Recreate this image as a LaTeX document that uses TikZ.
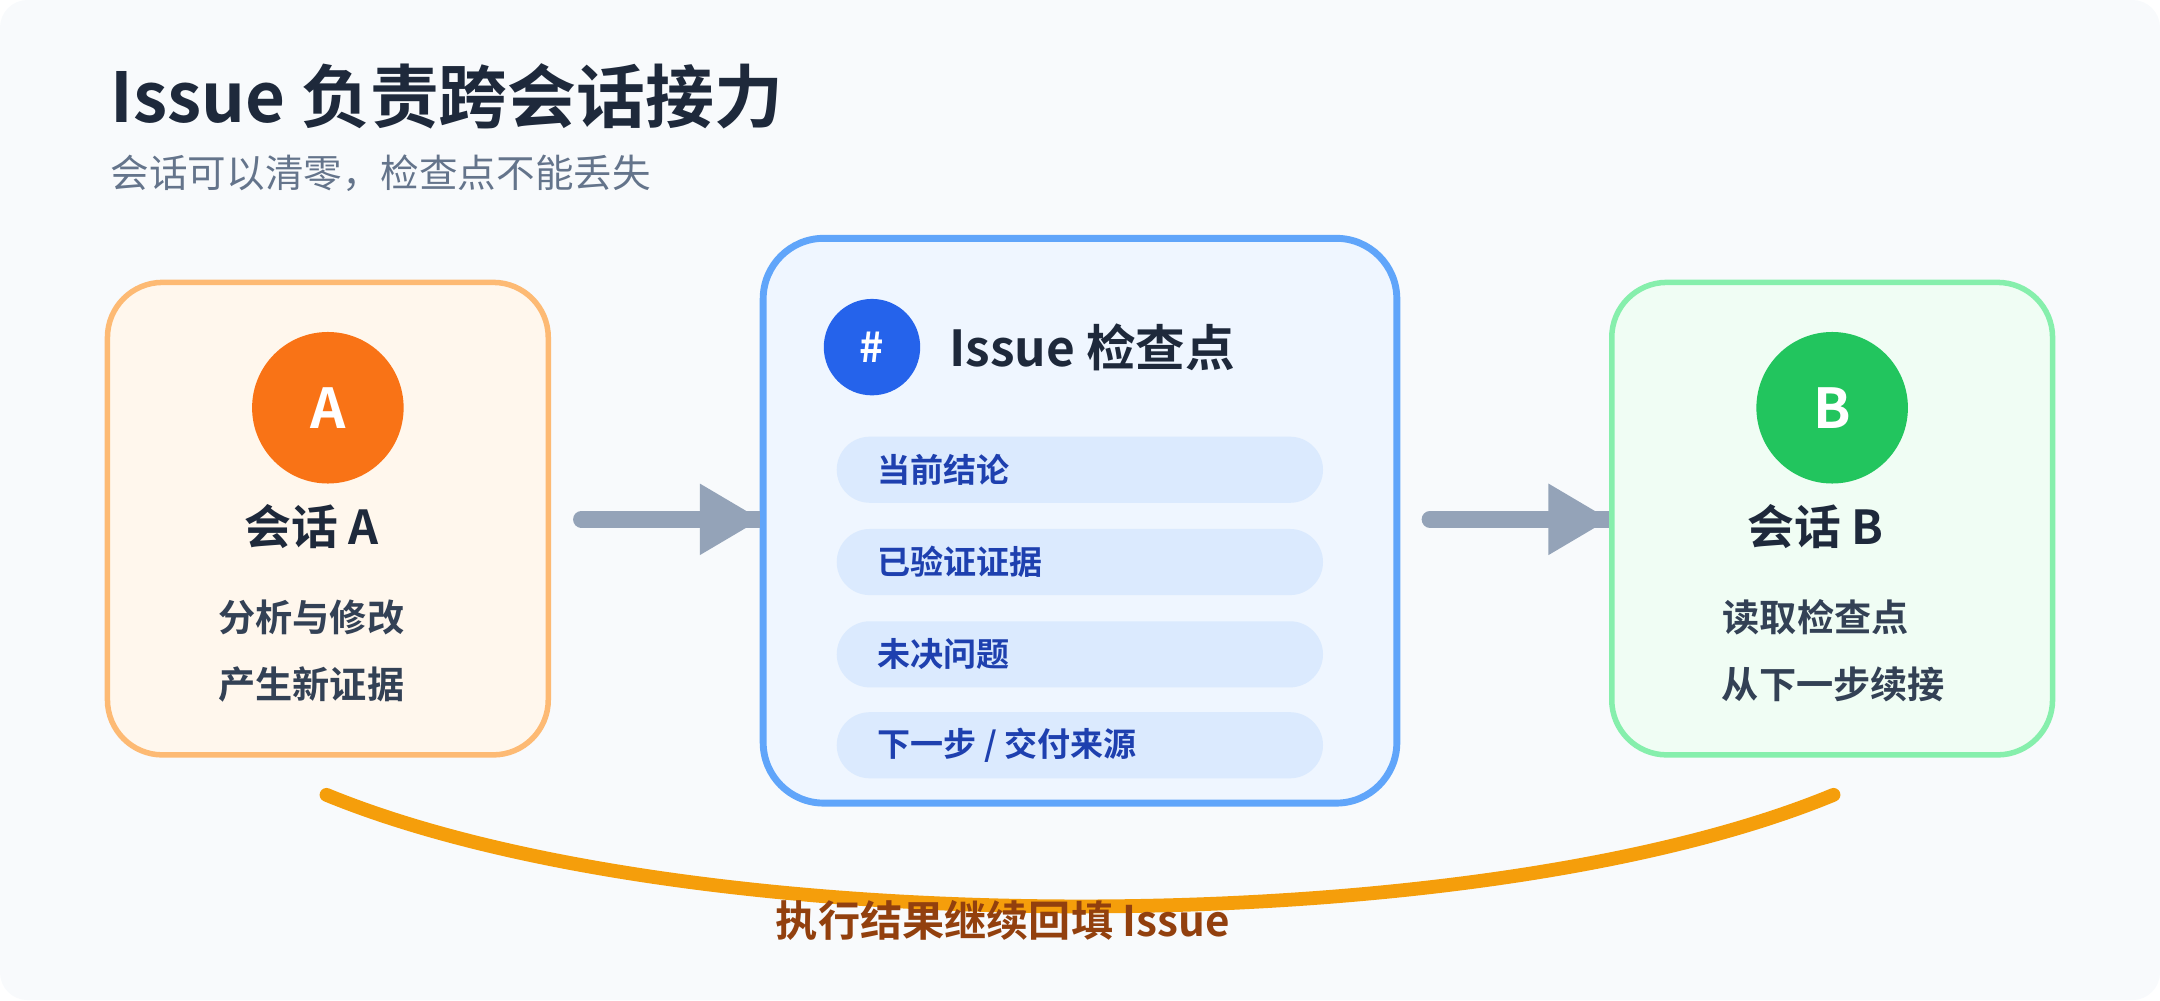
\documentclass[tikz,border=0pt]{standalone}
\usepackage{fontspec}
\setmainfont{Noto Sans CJK SC}[BoldFont={Noto Sans CJK SC Bold}]
\definecolor{bg}{HTML}{F8FAFC}
\definecolor{dark}{HTML}{1E293B}
\definecolor{mid}{HTML}{334155}
\definecolor{sub}{HTML}{64748B}
\definecolor{arr}{HTML}{94A3B8}
\begin{document}
\begin{tikzpicture}[x=0.5pt,y=-0.5pt,
  box/.style={draw,line width=2pt,rounded corners=20pt},
  circ/.style={circle,minimum size=55pt,inner sep=0pt,text=white,font=\bfseries\fontsize{20}{20}\selectfont},
  head/.style={text=dark,font=\bfseries\fontsize{17}{17}\selectfont},
  body/.style={text=mid,font=\bfseries\fontsize{13.5}{13.5}\selectfont},
  pill/.style={fill={rgb,255:red,219;green,234;blue,254},rounded corners=12pt,minimum width=176.5pt,minimum height=24pt,anchor=west,inner sep=0pt},
  ptxt/.style={anchor=west,text={rgb,255:red,30;green,64;blue,175},font=\bfseries\fontsize{12}{12}\selectfont},
  con/.style={draw=arr,line width=6pt,line cap=round}]
\useasboundingbox (0,0) rectangle (1568,726);
\fill[bg,rounded corners=10pt] (0,0) rectangle (1568,726);
\node[anchor=west,inner sep=0pt,text=dark,font=\bfseries\fontsize{25}{25}\selectfont] (title) at (80,70) {Issue 负责跨会话接力};
\node[anchor=west,inner sep=0pt,text=sub,font=\fontsize{14}{14}\selectfont] (subt) at (80,126) {会话可以清零，检查点不能丢失};
% box A
\draw[box,fill={rgb,255:red,255;green,247;blue,237},draw={rgb,255:red,253;green,186;blue,116}] (78,205) rectangle (398,548);
\node[circ,fill={rgb,255:red,249;green,115;blue,22}] (ca) at (238,296) {A};
\node[head] (ha) at (226,382) {会话 A};
\node[body] (a1) at (226,448) {分析与修改};
\node[body] (a2) at (226,497) {产生新证据};
% center box
\draw[box,line width=2.5pt,rounded corners=22pt,fill={rgb,255:red,239;green,246;blue,255},draw={rgb,255:red,96;green,165;blue,250}] (554,173) rectangle (1014,583);
\node[circle,minimum size=35pt,inner sep=0pt,fill={rgb,255:red,37;green,99;blue,235},text=white,font=\bfseries\fontsize{15}{15}\selectfont] (hash) at (633,252) {\#};
\node[anchor=west,head,font=\bfseries\fontsize{18}{18}\selectfont] (hc) at (682,252) {Issue 检查点};
\node[pill] (p1) at (607,341) {}; \node[ptxt] at (630,341) {当前结论};
\node[pill] (p2) at (607,408) {}; \node[ptxt] at (630,408) {已验证证据};
\node[pill] (p3) at (607,475) {}; \node[ptxt] at (630,475) {未决问题};
\node[pill] (p4) at (607,541) {}; \node[ptxt] at (630,541) {下一步 / 交付来源};
% box B
\draw[box,fill={rgb,255:red,240;green,253;blue,244},draw={rgb,255:red,134;green,239;blue,172}] (1170,205) rectangle (1490,548);
\node[circ,fill={rgb,255:red,34;green,197;blue,94}] (cb) at (1330,296) {B};
\node[head] (hb) at (1318,382) {会话 B};
\node[body] (b1) at (1318,448) {读取检查点};
\node[body] (b2) at (1331,497) {从下一步续接};
% arrows
\coordinate (s1) at (422,377); \coordinate (e1) at (552,377);
\coordinate (s2) at (1038,377); \coordinate (e2) at (1168,377);
\draw[con] (s1) -- (510,377); \draw[draw=arr,line width=6pt] (500,377) -- (e1);
\fill[arr] (508,351) -- (552,377) -- (508,403) -- cycle;
\draw[con] (s2) -- (1126,377); \draw[draw=arr,line width=6pt] (1116,377) -- (e2);
\fill[arr] (1124,351) -- (1168,377) -- (1124,403) -- cycle;
% curve
\coordinate (l) at (237,577); \coordinate (r) at (1331,577);
\draw[draw={rgb,255:red,245;green,158;blue,11},line width=5pt,line cap=round] (l) .. controls (500,685) and (1070,685) .. (r);
\node[text={rgb,255:red,146;green,64;blue,14},font=\bfseries\fontsize{15.3}{15.3}\selectfont] (lbl) at (728,668) {执行结果继续回填 Issue};
\end{tikzpicture}
\end{document}
